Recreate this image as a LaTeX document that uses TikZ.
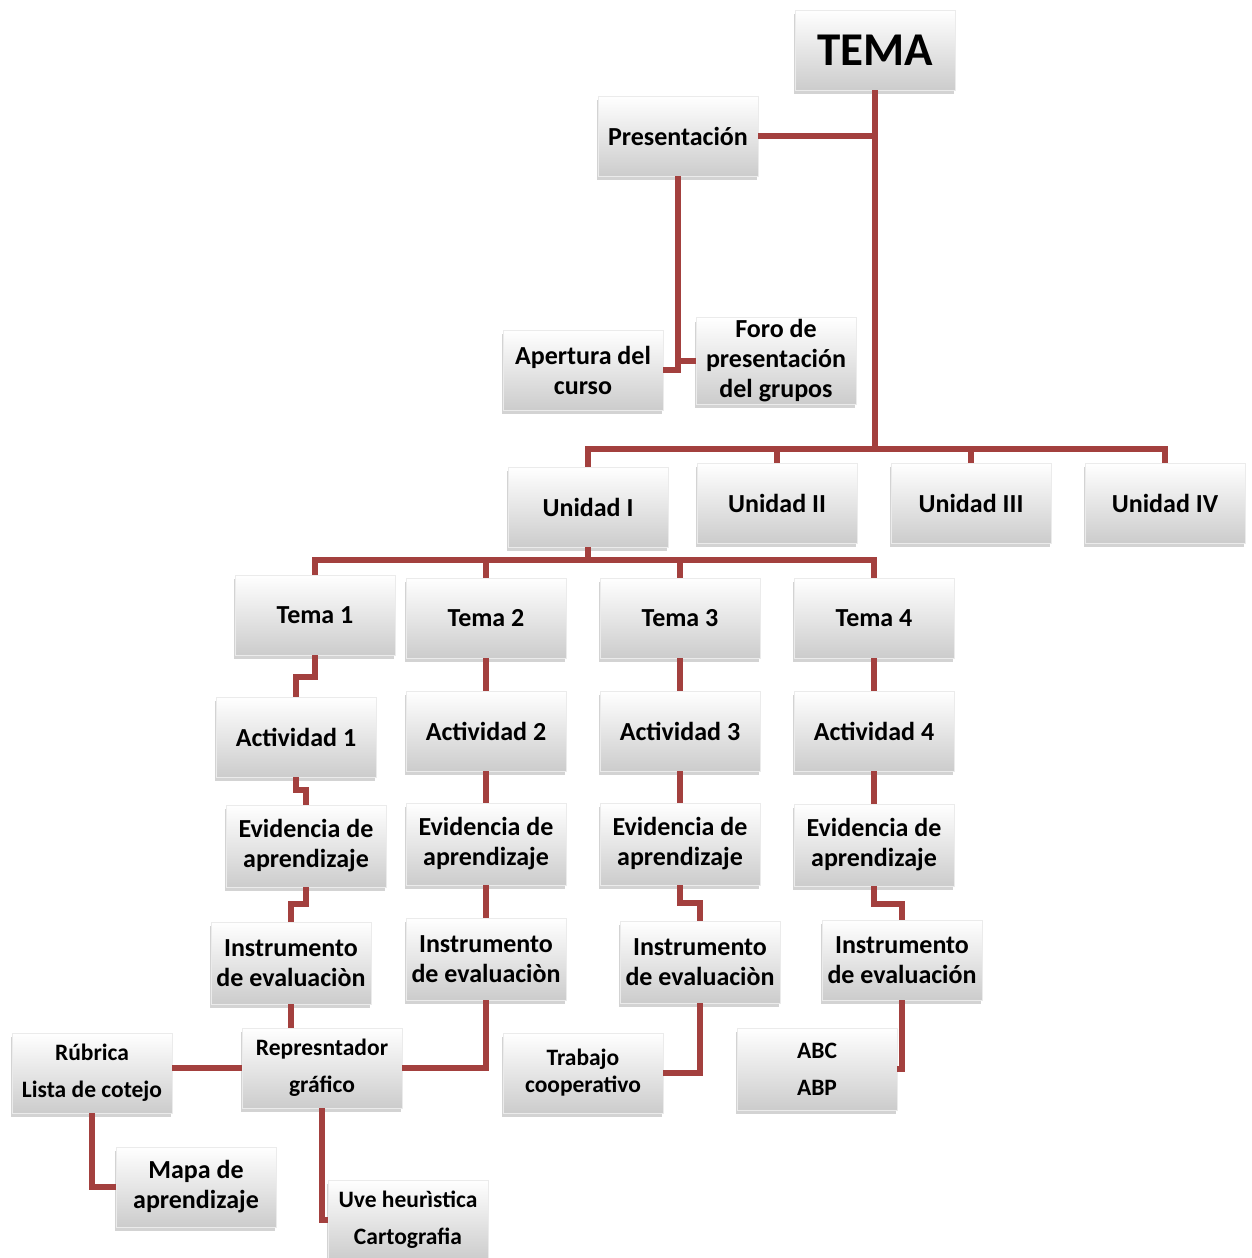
\documentclass[tikz,border=0pt]{standalone}
\usepackage{fontspec}
\setmainfont{Carlito}
\usetikzlibrary{shadows}

\definecolor{linkred}{RGB}{163,64,62}

\tikzset{
  box/.style = {rectangle, minimum width = 160pt, minimum height = 80pt, inner sep = 2pt,
    align = center, top color = white, bottom color = black!20, draw = black!8,
    drop shadow = {shadow xshift = -1pt, shadow yshift = -4pt, opacity = .35},
    font = \fontsize{26}{30}\selectfont\bfseries},
  smallbox/.style = {box, font = \fontsize{23.5}{37}\selectfont\bfseries},
  link/.style = {draw = linkred, line width = 6pt}
}

\begin{document}
\begin{tikzpicture}[x = 1pt, y = -1pt]
    \useasboundingbox (0, 0) rectangle (1251, 1258);

    % Cabecera
    \node [box, font = \fontsize{47}{50}\selectfont\bfseries] (tema) at (875, 50) {TEMA};
    \node [box] (pres) at (678, 136) {Presentación};
    \node [box] (aper) at (583, 370) {Apertura del\\curso};
    \node [box, minimum height = 83pt] (foro) at (776, 361) {Foro de\\presentación\\del grupos};

    % Unidades
    \node [box] (u1) at (588, 507) {Unidad I};
    \node [box] (u2) at (777, 503) {Unidad II};
    \node [box] (u3) at (971, 503) {Unidad III};
    \node [box] (u4) at (1165, 503) {Unidad IV};

    % Temas, actividades, evidencias, instrumentos
    \node [box] (t1) at (315, 615) {Tema 1};
    \node [box] (t2) at (486, 618) {Tema 2};
    \node [box] (t3) at (680, 618) {Tema 3};
    \node [box] (t4) at (874, 618) {Tema 4};

    \node [box] (a1) at (296, 737) {Actividad 1};
    \node [box] (a2) at (486, 731) {Actividad 2};
    \node [box] (a3) at (680, 731) {Actividad 3};
    \node [box] (a4) at (874, 731) {Actividad 4};

    \node [box, minimum height = 82pt] (e1) at (306, 846) {Evidencia de\\aprendizaje};
    \node [box, minimum height = 82pt] (e2) at (486, 844) {Evidencia de\\aprendizaje};
    \node [box, minimum height = 82pt] (e3) at (680, 844) {Evidencia de\\aprendizaje};
    \node [box, minimum height = 82pt] (e4) at (874, 845) {Evidencia de\\aprendizaje};

    \node [box, minimum height = 82pt] (i1) at (291, 963) {Instrumento\\de evaluaciòn};
    \node [box, minimum height = 82pt] (i2) at (486, 959) {Instrumento\\de evaluaciòn};
    \node [box, minimum height = 82pt] (i3) at (700, 962) {Instrumento\\de evaluaciòn};
    \node [box] (i4) at (902, 960) {Instrumento\\de evaluación};

    % Estrategias
    \node [smallbox] (rub) at (92, 1073) {Rúbrica\\Lista de cotejo};
    \node [smallbox] (rep) at (322, 1068) {Represntador\\gráfico};
    \node [smallbox, font = \fontsize{23.5}{27}\selectfont\bfseries] (trab) at (583, 1073) {Trabajo\\cooperativo};
    \node [smallbox, minimum height = 82pt] (abc) at (817, 1069) {ABC\\ABP};
    \node [box] (mapa) at (196, 1187) {Mapa de\\aprendizaje};
    \node [smallbox] (uve) at (408, 1220) {Uve heurìstica\\Cartografia};

    % Conectores
    \coordinate (ubus) at (875, 449);
    \coordinate (tbus) at (588, 560);

    \draw [link] (tema.south) -- (ubus);
    \draw [link] (pres.east) -- (pres.east -| tema.south);
    \draw [link] (pres.south) |- (aper.east);
    \draw [link] (pres.south |- foro.west) -- (foro.west);

    \draw [link] (u1.north) |- (ubus) -| (u4.north);
    \draw [link] (u2.north) -- (u2.north |- ubus);
    \draw [link] (u3.north) -- (u3.north |- ubus);

    \draw [link] (u1.south) -- (tbus);
    \draw [link] (t1.north) |- (tbus) -| (t4.north);
    \draw [link] (t2.north) -- (t2.north |- tbus);
    \draw [link] (t3.north) -- (t3.north |- tbus);

    % Columna 1 (con escalones)
    \draw [link] (t1.south) -- ++(0, 22) -| (a1.north);
    \draw [link] (a1.south) -- ++(0, 13) -| (e1.north);
    \draw [link] (e1.south) -- ++(0, 17) -| (i1.north);
    \draw [link] (i1.south) -- (i1.south |- rep.north);

    % Columnas 2, 3 y 4
    \foreach \k in {2, 3, 4} {
        \draw [link] (t\k.south) -- (a\k.north);
        \draw [link] (a\k.south) -- (e\k.north);
    }
    \draw [link] (e2.south) -- (i2.north);
    \draw [link] (e3.south) -- ++(0, 18) -| (i3.north);
    \draw [link] (e4.south) -- ++(0, 18) -| (i4.north);

    \draw [link] (i2.south) |- (rep.east);
    \draw [link] (i3.south) |- (trab.east);
    \draw [link] (i4.south) |- (abc.east);

    \draw [link] (rep.west) -- (rep.west -| rub.east);
    \draw [link] (rub.south) |- (mapa.west);
    \draw [link] (rep.south) |- (uve.west);
\end{tikzpicture}
\end{document}
